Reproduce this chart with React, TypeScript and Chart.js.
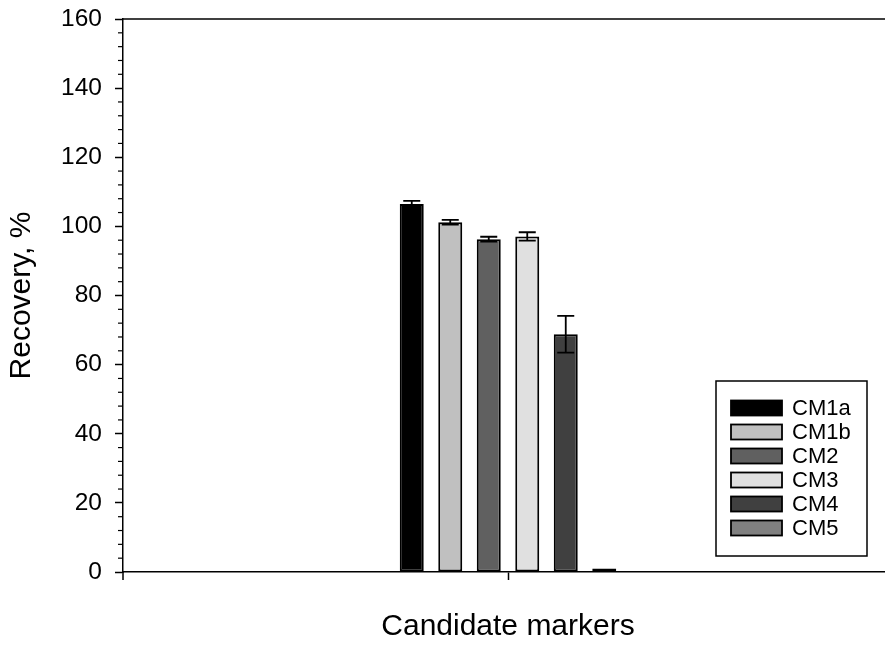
import React, { useEffect, useRef } from 'react';
import { Chart, registerables } from 'chart.js';

Chart.register(...registerables);

// ---- data ----
const categories = [''];
const markers = ['CM1a', 'CM1b', 'CM2', 'CM3', 'CM4', 'CM5'];
const recovery = [106.5, 101.2, 96.3, 97.1, 68.8, 1.0];
const errors = [0.9, 0.7, 0.7, 1.2, 5.3, 0];
const fills = ['#000000', '#c0c0c0', '#606060', '#e0e0e0', '#404040', '#808080'];
const yMin = 0;
const yMax = 160;
const yMajorStep = 20;
const yMinorStep = 4;
const xTitle = 'Candidate markers';
const yTitle = 'Recovery, %';

const FONT = "'Liberation Sans', Arial, Helvetica, sans-serif";

const axisDecor = {
  id: 'axisDecor',
  afterDraw(chart: any) {
    const { ctx, chartArea } = chart;
    const y = chart.scales.y;
    ctx.save();
    ctx.strokeStyle = '#000';
    ctx.lineWidth = 1.5;
    // top frame line
    ctx.beginPath();
    ctx.moveTo(chartArea.left, chartArea.top);
    ctx.lineTo(chartArea.right, chartArea.top);
    ctx.stroke();
    // y axis extension below the x axis
    ctx.beginPath();
    ctx.moveTo(chartArea.left, chartArea.bottom);
    ctx.lineTo(chartArea.left, chartArea.bottom + 8);
    ctx.stroke();
    // minor ticks
    ctx.lineWidth = 1.2;
    for (let v = yMin; v <= yMax; v += yMinorStep) {
      if (v % yMajorStep === 0) continue;
      const py = y.getPixelForValue(v);
      ctx.beginPath();
      ctx.moveTo(chartArea.left - 5, py);
      ctx.lineTo(chartArea.left, py);
      ctx.stroke();
    }
    ctx.restore();
  },
};

const errorBars = {
  id: 'errorBars',
  afterDatasetsDraw(chart: any) {
    const { ctx } = chart;
    const y = chart.scales.y;
    ctx.save();
    ctx.strokeStyle = '#000';
    ctx.lineWidth = 1.8;
    chart.data.datasets.forEach((ds: any, i: number) => {
      const meta = chart.getDatasetMeta(i);
      const bar = meta.data[0];
      if (!bar) return;
      const v = ds.data[0];
      const e = ds.err;
      if (!e) return;
      const x = bar.x;
      const top = y.getPixelForValue(v + e);
      const bot = y.getPixelForValue(v - e);
      const half = 8.5;
      ctx.beginPath();
      ctx.moveTo(x, top);
      ctx.lineTo(x, bot);
      ctx.moveTo(x - half, top);
      ctx.lineTo(x + half, top);
      ctx.moveTo(x - half, bot);
      ctx.lineTo(x + half, bot);
      ctx.stroke();
    });
    ctx.restore();
  },
};

const boxLegend = {
  id: 'boxLegend',
  afterDraw(chart: any) {
    const { ctx } = chart;
    const bx = 716, by = 381, bw = 151, bh = 175;
    ctx.save();
    ctx.fillStyle = '#fff';
    ctx.fillRect(bx, by, bw, bh);
    ctx.strokeStyle = '#000';
    ctx.lineWidth = 1.5;
    ctx.strokeRect(bx, by, bw, bh);
    ctx.font = `22px ${FONT}`;
    ctx.textBaseline = 'middle';
    ctx.textAlign = 'left';
    chart.data.datasets.forEach((ds: any, i: number) => {
      const cy = 408 + i * 24;
      ctx.fillStyle = ds.backgroundColor;
      ctx.fillRect(731, cy - 7.5, 51, 15);
      ctx.lineWidth = 1.8;
      ctx.strokeStyle = '#000';
      ctx.strokeRect(731, cy - 7.5, 51, 15);
      ctx.fillStyle = '#000';
      ctx.fillText(ds.label, 792, cy + 1);
    });
    ctx.restore();
  },
};

export default function App() {
  const ref = useRef<HTMLCanvasElement | null>(null);

  useEffect(() => {
    if (!ref.current) return;
    Chart.defaults.font.family = FONT;
    const chart = new Chart(ref.current, {
      type: 'bar',
      data: {
        labels: categories,
        datasets: markers.map((m, i) => ({
          label: m,
          data: [recovery[i]],
          err: errors[i],
          backgroundColor: fills[i],
          borderColor: '#000',
          borderWidth: 2,
          borderSkipped: false,
          categoryPercentage: 0.3,
          barPercentage: 0.623,
        })) as any,
      },
      options: {
        responsive: false,
        animation: false,
        events: [],
        layout: { padding: { top: 19, right: 7, left: 0, bottom: 0 } },
        plugins: {
          legend: { display: false },
          tooltip: { enabled: false },
          title: { display: false },
        },
        scales: {
          x: {
            type: 'category',
            offset: true,
            grid: {
              offset: false,
              drawOnChartArea: false,
              tickLength: 8,
              tickColor: '#000',
              tickWidth: 1.5,
            },
            border: { color: '#000', width: 1.5 },
            ticks: { display: true, color: '#000', font: { size: 23 } },
            title: {
              display: true,
              text: xTitle,
              color: '#000',
              font: { size: 30, lineHeight: 1.2 },
              padding: { top: 0, bottom: 0 },
            },
            afterFit: (s: any) => {
              s.height = 73;
              s.paddingLeft = 0;
              s.paddingRight = 0;
            },
          },
          y: {
            min: yMin,
            max: yMax,
            ticks: {
              stepSize: yMajorStep,
              color: '#000',
              padding: 13,
              font: { size: 24.5 },
            },
            grid: {
              drawOnChartArea: false,
              tickLength: 8,
              tickColor: '#000',
              tickWidth: 1.5,
            },
            border: { color: '#000', width: 1.5 },
            title: {
              display: true,
              text: yTitle,
              color: '#000',
              font: { size: 30, lineHeight: 1.2 },
              padding: { top: 4, bottom: 0 },
            },
            afterFit: (s: any) => {
              s.width = 123;
              s.paddingTop = 0;
              s.paddingBottom = 0;
            },
          },
        },
      },
      plugins: [errorBars, axisDecor, boxLegend],
    } as any);
    return () => chart.destroy();
  }, []);

  return (
    <div
      style={{
        position: 'absolute',
        left: 0,
        top: 0,
        width: 885,
        height: 645,
        overflow: 'hidden',
        background: '#fff',
      }}
    >
      <canvas ref={ref} width={900} height={645} style={{ display: 'block' }} />
    </div>
  );
}
